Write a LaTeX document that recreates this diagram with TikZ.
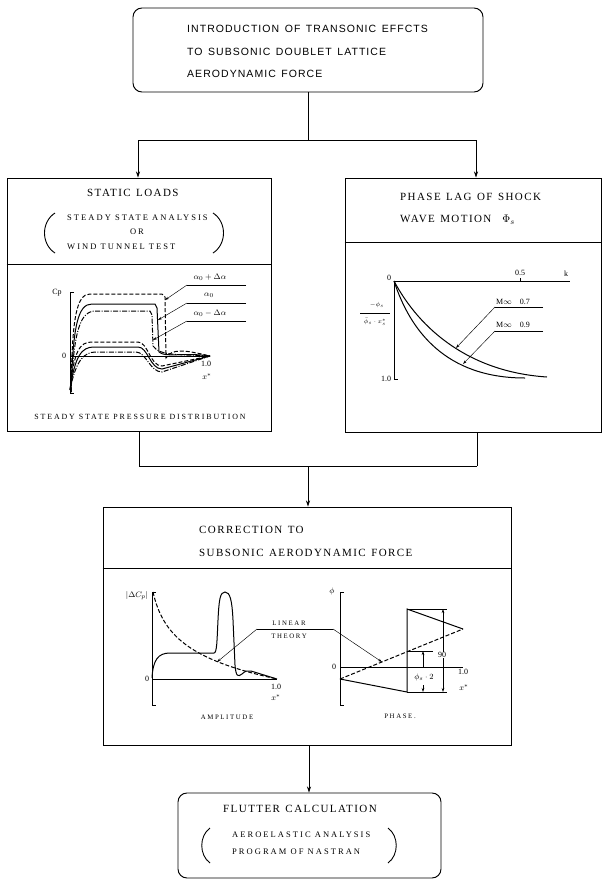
\documentclass[tikz,border=0pt]{standalone}
\usepackage{fontspec}
\setmainfont{Liberation Serif}
\newfontfamily\topf[LetterSpace=10,WordSpace=1.4]{Liberation Sans}
\newfontfamily\hdf[LetterSpace=13,WordSpace=1.3]{Liberation Serif}
\newfontfamily\smf[LetterSpace=24]{Liberation Serif}
\usetikzlibrary{arrows.meta}
\begin{document}
\begin{tikzpicture}[x=1pt,y=-1pt,
  box/.style={draw, line width=0.95pt, inner sep=0pt},
  conn/.style={line width=0.85pt},
  arr/.style={conn, -{Stealth[length=6pt,width=4pt]}},
  ax/.style={line width=0.7pt},
  crv/.style={line width=1pt},
  ldr/.style={line width=0.45pt, -{Stealth[length=4pt,width=2.5pt]}},
  thin/.style={line width=0.45pt},
  dsh/.style={crv, dash pattern=on 4pt off 2pt},
  dd/.style={crv, dash pattern=on 5pt off 1.5pt on 1pt off 1.5pt},
  toptxt/.style={anchor=west, inner sep=0pt, font=\topf\fontsize{10.5}{12}\selectfont},
  hdr/.style={anchor=west, inner sep=0pt, font=\hdf\fontsize{11}{13}\selectfont},
  sm/.style={anchor=west, inner sep=0pt, font=\smf\fontsize{8.5}{10}\selectfont},
  captxt/.style={inner sep=0pt, font=\smf\fontsize{7.9}{9}\selectfont},
  tiny/.style={inner sep=0pt, font=\smf\fontsize{6.8}{8}\selectfont},
  num/.style={inner sep=0pt, font=\fontsize{8}{9}\selectfont},
  frc/.style={inner sep=0pt, font=\fontsize{6.5}{7}\selectfont}
]
\useasboundingbox (0,0) rectangle (603,881);
\fill[white] (0,0) rectangle (603,881);

% ---------- boxes ----------
\node[box, rounded corners=9pt, minimum width=350pt, minimum height=84pt] (top) at (308,50) {};
\node[box, minimum width=264pt, minimum height=253pt] (static) at (139,304.5) {};
\node[box, minimum width=256pt, minimum height=254pt] (phase) at (473,305) {};
\node[box, minimum width=408pt, minimum height=238pt] (corr) at (307,626) {};
\node[box, rounded corners=9pt, minimum width=263pt, minimum height=85pt] (flutter) at (309.5,835.5) {};

% dividers
\draw[line width=0.7pt] (static.west |- 0,264) -- (static.east |- 0,264);
\draw[line width=0.7pt] (phase.west |- 0,242) -- (phase.east |- 0,242);
\draw[line width=0.7pt] (corr.west |- 0,568) -- (corr.east |- 0,568);

% ---------- connectors ----------
\coordinate (j1) at (308,140);
\coordinate (jl) at (138,140);
\coordinate (jr) at (476,140);
\draw[conn] (top.south -| j1) -- (j1);
\draw[conn] (jl) -- (jr);
\draw[arr] (jl) -- (jl |- static.north);
\draw[arr] (jr) -- (jr |- phase.north);

\coordinate (kl) at (139,466);
\coordinate (kr) at (477,466);
\coordinate (km) at (308,466);
\draw[conn] (static.south -| kl) -- (kl);
\draw[conn] (phase.south -| kr) -- (kr);
\draw[conn] (kl) -- (kr);
\draw[arr] (km) -- (km |- corr.north);
\coordinate (kf) at (309,745);
\draw[arr] (kf) -- (kf |- flutter.north);

% ---------- top text ----------
\node[toptxt] (t1) at (187,29) {INTRODUCTION OF TRANSONIC EFFCTS};
\node[toptxt] (t2) at (187,52) {TO SUBSONIC DOUBLET LATTICE};
\node[toptxt] (t3) at (187,74) {AERODYNAMIC FORCE};

% ---------- static loads ----------
\node[hdr] (sh) at (87,193) {STATIC LOADS};
\node[sm] (s1) at (67,218) {STEADY STATE ANALYSIS};
\node[sm, anchor=center] (s2) at (137,232) {OR};
\node[sm] (s3) at (67,247) {WIND TUNNEL TEST};
\draw[line width=0.9pt] (55,213) .. controls (41,222) and (41,244) .. (55,253);
\draw[line width=0.9pt] (213,213) .. controls (227,222) and (227,244) .. (213,253);

% axes
\draw[ax] (74,292) -- (70,292) -- (70,393) -- (74,393);
\draw[ax] (70,356) -- (210,356);
\node[num] (cp) at (57,293) {Cp};
\node[num] (s0) at (64,356) {0};
\node[num] (s10) at (206,364) {1.0};
\node[num] (sx) at (207,377) {$x^*$};

% upper surface
\draw[dsh] (71,392) .. controls (72,320) and (76,294) .. (90,294) -- (162,294) -- (165,297) -- (166,358) .. controls (172,348) and (185,350) .. (210,356);
\draw[crv] (71,392) .. controls (73,325) and (78,304) .. (92,304) -- (155,304) -- (157,308) -- (159,352) .. controls (166,358) and (182,352) .. (210,356);
\draw[dd] (71,392) .. controls (74,330) and (80,311) .. (96,311) -- (150,311) -- (152,315) -- (153,346) .. controls (160,357) and (185,354) .. (210,356);
% lower surface
\draw[dsh] (70,390) .. controls (74,350) and (80,342) .. (92,342) -- (138,342) .. controls (148,342) and (150,366) .. (162,366) -- (210,356);
\draw[crv] (70,390) .. controls (75,355) and (82,347) .. (94,347) -- (138,347) .. controls (148,347) and (150,369) .. (162,369) -- (210,356);
\draw[dd] (70,390) .. controls (76,360) and (84,352) .. (96,352) -- (136,352) .. controls (146,352) and (150,372) .. (162,372) -- (210,356);

% labels
\node[num] (la1) at (210,277) {$\alpha_0+\Delta\alpha$};
\node[num] (la2) at (209,295) {$\alpha_0$};
\node[num] (la3) at (210,313) {$\alpha_0-\Delta\alpha$};
\draw[thin] (246,285) -- (187,285);
\draw[ldr] (187,285) -- (165,300);
\draw[thin] (246,303) -- (187,303);
\draw[ldr] (187,303) -- (158,320);
\draw[thin] (246,321) -- (187,321);
\draw[ldr] (187,321) -- (153,340);

\node[captxt] (scap) at (140,417) {STEADY STATE PRESSURE DISTRIBUTION};

% ---------- phase lag ----------
\node[hdr] (ph1) at (400,197) {PHASE LAG OF SHOCK};
\node[hdr] (ph2) at (400,220) {WAVE MOTION\quad $\Phi_s$};

\draw[ax] (394,281) -- (570,281);
\draw[ax] (520,281) -- (520,278);
\draw[ax] (394,281) -- (394,379) -- (398,379);
\node[num] (p0) at (389,278) {0};
\node[num] (p05) at (520,273) {0.5};
\node[num] (pk) at (566,274) {k};
\node[num] (p10) at (386,379) {1.0};
\node[frc] (fnum) at (377,305) {$-\phi_s$};
\node[frc] (fden) at (375,322) {$\bar\phi_s\cdot x^*_s$};
\draw[thin] (360,313) -- (390,313);

\draw[crv] (394,281) .. controls (420,330) and (470,372) .. (547,377);
\draw[crv] (394,281) .. controls (410,330) and (445,378) .. (525,378);

\node[num, anchor=west] (m1) at (496,302) {M$\infty$\quad 0.7};
\node[num, anchor=west] (m2) at (496,325) {M$\infty$\quad 0.9};
\draw[thin] (543,307) -- (495,307);
\draw[ldr] (495,307) -- (456,348);
\draw[thin] (543,331) -- (495,331);
\draw[ldr] (495,331) -- (463,364);

% ---------- correction ----------
\node[hdr] (c1) at (199,530) {CORRECTION TO};
\node[hdr] (c2) at (199,553) {SUBSONIC AERODYNAMIC FORCE};

% amplitude
\draw[ax] (156,592) -- (152,592) -- (152,705) -- (156,705);
\draw[ax] (152,679) -- (277,679);
\node[num] (acp) at (137,596) {$|\Delta C_p|$};
\node[num] (a0) at (147,679) {0};
\node[num] (a10) at (276,687) {1.0};
\node[num] (ax) at (276,698) {$x^*$};
\draw[dsh] (153,592) .. controls (163,636) and (190,660) .. (277,679);
\draw[crv] (152,678) .. controls (153,660) and (158,653) .. (170,653) -- (214,653) .. controls (217,653) and (217,640) .. (218,620) .. controls (219,600) and (220,592) .. (225,592) .. controls (230,592) and (232,600) .. (233,620) -- (235,665) .. controls (236,677) and (238,677) .. (242,674) .. controls (245,671) and (248,670) .. (251,671) -- (277,679);
\node[tiny] (amp) at (227,717) {AMPLITUDE};

% linear theory
\node[tiny] (lin1) at (289,623) {LINEAR};
\node[tiny] (lin2) at (289,636) {THEORY};
\draw[thin] (257,629) -- (333,629);
\draw[ldr] (257,629) -- (217,662);
\draw[ldr] (333,629) -- (382,662);

% phase
\draw[ax] (344,592) -- (340,592) -- (340,705) -- (344,705);
\draw[ax] (340,667) -- (463,667);
\node[num] (pp) at (332,591) {$\phi$};
\node[num] (pp0) at (334,667) {0};
\node[num] (pp10) at (463,672) {1.0};
\node[num] (ppx) at (464,688) {$x^*$};
\draw[crv] (340,679) -- (407,692) -- (407,609) -- (463,629);
\draw[dsh] (340,679) -- (463,629);
\draw[thin] (407,609) -- (447,609);
\draw[thin] (407,692) -- (447,692);
\draw[thin] (407,651) -- (433,651);
\draw[thin, {Stealth[length=4pt,width=2.5pt]}-{Stealth[length=4pt,width=2.5pt]}] (443,609) -- (443,692);
\draw[ldr] (423,667) -- (423,651);
\draw[ldr] (423,685) -- (423,692);
\node[num, fill=white, inner sep=0.5pt] (p90) at (442,655) {90};
\node[num] (pphi) at (424,677) {$\phi_s\cdot 2$};
\node[tiny] (phs) at (400,716) {PHASE.};

% ---------- flutter ----------
\node[hdr] (f1) at (223,809) {FLUTTER CALCULATION};
\node[sm] (f2) at (232,835) {AEROELASTIC ANALYSIS};
\node[sm] (f3) at (232,852) {PROGRAM OF NASTRAN};
\draw[line width=0.9pt] (210,828) .. controls (199,836) and (199,855) .. (210,863);
\draw[line width=0.9pt] (388,828) .. controls (399,836) and (399,855) .. (388,863);
\end{tikzpicture}
\end{document}
